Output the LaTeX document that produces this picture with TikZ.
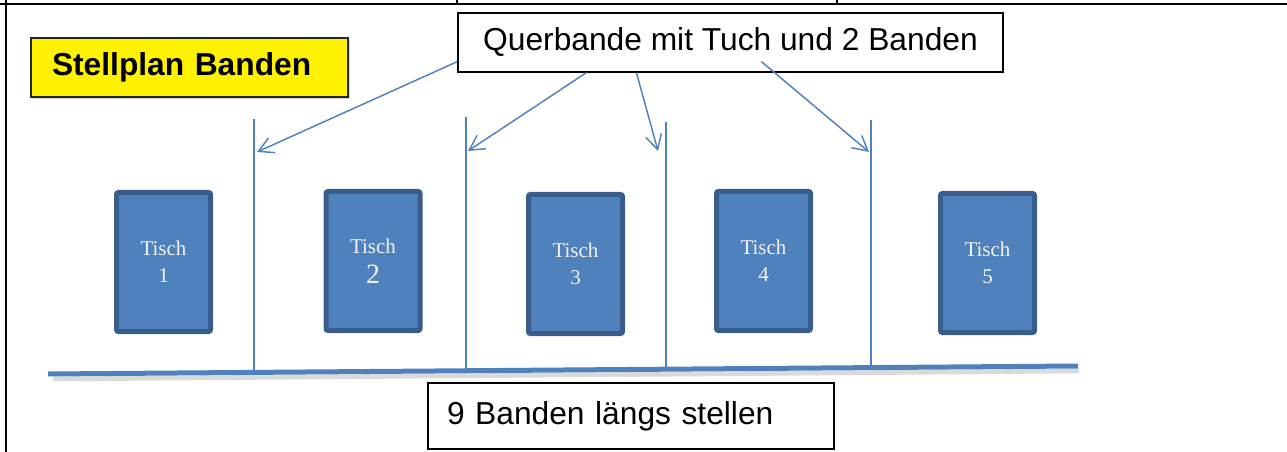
\documentclass[tikz,border=0pt]{standalone}
\usepackage{fontspec}
\setmainfont{Liberation Serif}
\newfontfamily\arialf{Liberation Sans}
\usetikzlibrary{arrows.meta,calc,shadows}
\definecolor{accblue}{HTML}{4F81BD}
\definecolor{accdark}{HTML}{385D8A}
\definecolor{tischtxt}{HTML}{F2F2F2}
\begin{document}
\begin{tikzpicture}[x=0.75pt,y=-0.75pt,
  tischbox/.style={draw=accdark, fill=accblue, line width=3.75pt, rounded corners=1.5pt,
    minimum width=70.5pt, minimum height=104.25pt, inner sep=0pt, text=tischtxt,
    align=center, font=\fontsize{15.75}{20.25}\selectfont},
  labelbox/.style={draw=black, fill=white, line width=0.9pt, inner sep=0pt,
    font=\arialf\fontsize{23.8}{28}\selectfont},
  bande/.style={draw=accblue, line width=1.5pt},
  arr/.style={draw=accblue, line width=1.1pt,
    -{Straight Barb[length=11pt,width=12pt,line width=1.1pt]}},
  frame/.style={draw=black, line width=1.5pt},
]
\useasboundingbox (0,0) rectangle (1287,452);
% frame
\draw[frame] (0,4) -- (1287,4);
\draw[frame] (6,0) -- (6,452);
\draw[frame] (457,0) -- (457,4);
\draw[frame] (837,0) -- (837,4);

% title
\node[draw=black!85, fill=yellow, line width=0.9pt, inner ysep=0pt, inner xsep=15.75pt,
  text width=206.25pt, minimum height=44.25pt, align=left,
  drop shadow={shadow xshift=1.2pt, shadow yshift=-1.2pt, opacity=0.35},
  font=\arialf\bfseries\fontsize{23.8}{28}\selectfont] (title) at (189.5,67.5) {Stellplan Banden};

% long baseline
\coordinate (bl) at (48,374);
\coordinate (br) at (1078,366);
\draw[line width=3.5pt, black!18, opacity=0.8] ($(bl)+(5,5)$) -- ($(br)+(1,5)$);
\draw[accblue, line width=3.75pt] (bl) -- (br);

% vertical Banden
\coordinate (v1) at (254,119);
\coordinate (v2) at (466,117);
\coordinate (v3) at (666,122);
\coordinate (v4) at (871,120);
\coordinate (w1) at (254,372.4);
\coordinate (w2) at (466,370.8);
\coordinate (w3) at (666,369.2);
\coordinate (w4) at (871,367.6);
\draw[bande] (v1) -- (w1);
\draw[bande] (v2) -- (w2);
\draw[bande] (v3) -- (w3);
\draw[bande] (v4) -- (w4);

% tables
\node[tischbox] (t1) at (163.5,262) {Tisch\\1};
\node[tischbox] (t2) at (373,261) {Tisch\\[2pt]{\fontsize{21}{24}\selectfont 2}};
\node[tischbox] (t3) at (575.5,264) {Tisch\\3};
\node[tischbox] (t4) at (763.5,261) {Tisch\\4};
\node[tischbox] (t5) at (987.5,263) {Tisch\\5};

% label boxes
\node[labelbox, minimum width=408.75pt, minimum height=44.25pt] (q) at (730.5,42.5)
  {Querbande mit Tuch und 2 Banden};
\node[labelbox, minimum height=49.5pt, text width=276pt, inner xsep=14.25pt, align=left]
  (l) at (631,416) {9 Banden längs stellen};

% arrows
\coordinate (a1) at (257,152);
\coordinate (a2) at (468,151);
\coordinate (a3) at (658,151);
\coordinate (a4) at (869,152);
\draw[arr] ([shift={(0,-11)}]q.south west) -- (a1);
\draw[arr] ([shift={(129,0)}]q.south west) -- (a2);
\draw[arr] ([shift={(179,0)}]q.south west) -- (a3);
\draw[arr] ([shift={(304,-11)}]q.south west) -- (a4);
\end{tikzpicture}
\end{document}
